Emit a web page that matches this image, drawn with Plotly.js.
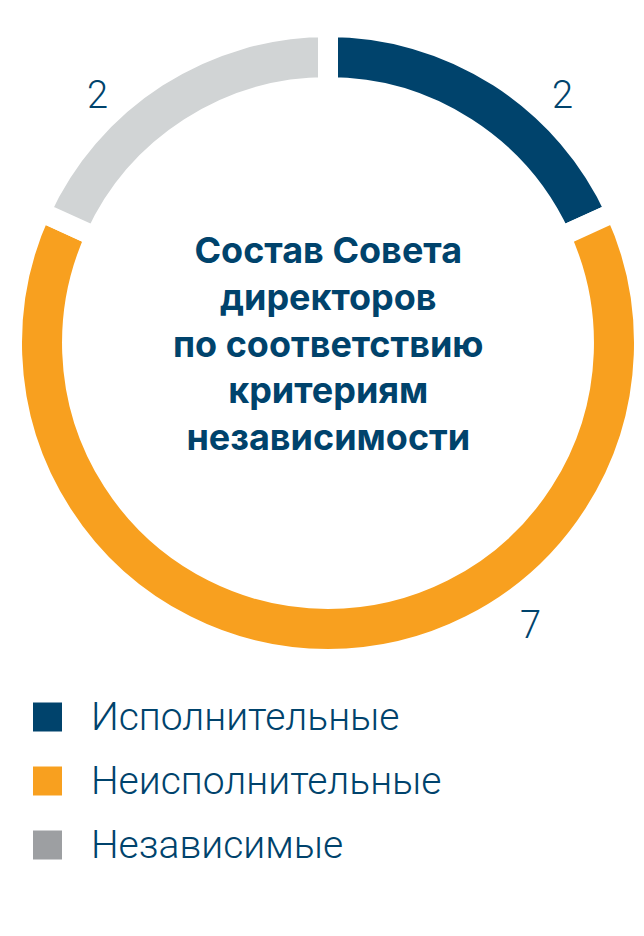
<!DOCTYPE html>
<html>
<head>
<meta charset="utf-8">
<script src="https://cdn.plot.ly/plotly-3.0.1.min.js"></script>
<style>
  html, body { margin: 0; padding: 0; background: #fff; }
  #chart { width: 644px; height: 936px; }
</style>
</head>
<body>
<div id="chart"></div>
<script>
// board composition by independence criteria
const categories = ["Исполнительные", "Неисполнительные", "Независимые"];
const members = [2, 7, 2];
const sliceColors = ["#00436c", "#f8a01f", "#d1d4d5"];
const legendColors = ["#00436c", "#f8a01f", "#9d9fa2"];
const centerLines = ["Состав Совета", "директоров", "по соответствию", "критериям", "независимости"];

const W = 644, H = 936;
const TEXT_BLUE = "#00436c";
// where the value labels sit around the ring (px)
const labelSpots = [[562, 95], [530, 625], [97, 95]];

const px = (x) => x / W;
const py = (y) => 1 - y / H;

const cx = 328, cy = 343, R = 316;

const pie = {
  type: "pie",
  values: members,
  labels: categories,
  sort: false,
  direction: "clockwise",
  rotation: 0,
  hole: 0.81,
  textinfo: "none",
  hoverinfo: "label+value",
  showlegend: false,
  marker: { colors: sliceColors, line: { color: "#ffffff", width: 20 } },
  domain: { x: [px(cx - R), px(cx + R)], y: [py(cy + R), py(cy - R)] }
};

const annotations = [];
annotations.push({
  xref: "paper", yref: "paper", x: px(cx), y: py(cy),
  text: centerLines.join("<br>"), showarrow: false,
  xanchor: "center", yanchor: "middle", align: "center",
  font: { family: "Inter, 'Open Sans', sans-serif", size: 36, weight: 700, color: TEXT_BLUE }
});
members.forEach((v, i) => {
  annotations.push({
    xref: "paper", yref: "paper", x: px(labelSpots[i][0]), y: py(labelSpots[i][1]),
    text: String(v), showarrow: false, xanchor: "center", yanchor: "middle",
    font: { family: "Roboto, sans-serif", size: 38, weight: 300, color: TEXT_BLUE }
  });
});

// legend drawn as squares + labels
const shapes = [];
categories.forEach((name, i) => {
  const yc = 717 + i * 64;
  shapes.push({
    type: "rect", xref: "paper", yref: "paper",
    x0: px(33), x1: px(62), y0: py(yc + 14.5), y1: py(yc - 14.5),
    fillcolor: legendColors[i], line: { width: 0 }
  });
  annotations.push({
    xref: "paper", yref: "paper", x: px(89), y: py(yc),
    text: name, showarrow: false, xanchor: "left", yanchor: "middle",
    font: { family: "Roboto, sans-serif", size: 39, weight: 300, color: TEXT_BLUE }
  });
});

const layout = {
  width: W, height: H,
  margin: { l: 0, r: 0, t: 0, b: 0 },
  paper_bgcolor: "#ffffff",
  showlegend: false,
  annotations: annotations,
  shapes: shapes
};

Plotly.newPlot("chart", [pie], layout, { displayModeBar: false, staticPlot: true });
</script>
</body>
</html>
